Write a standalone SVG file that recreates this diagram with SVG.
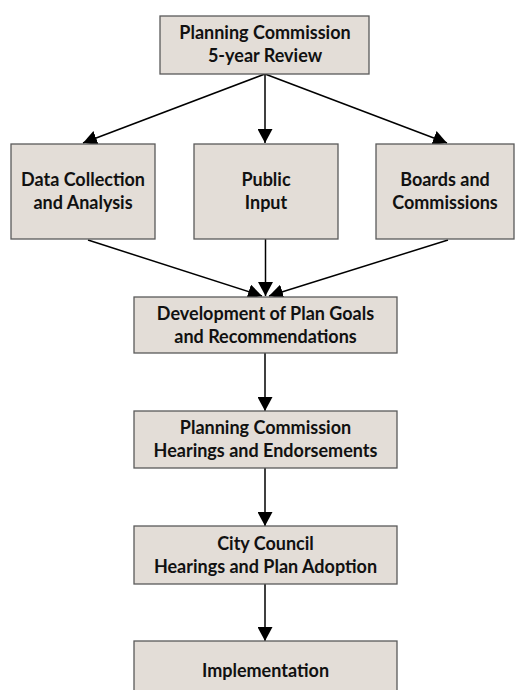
<svg xmlns="http://www.w3.org/2000/svg" width="515" height="690" viewBox="0 0 515 690">
  <style>
    .box { fill: #e3ddd7; stroke: #5a5a5a; stroke-width: 1.3; }
    .lbl { font-family: Lato, "Open Sans", sans-serif; font-weight: bold; font-size: 18px; fill: #111; text-anchor: middle; }
    .conn { stroke: #000; stroke-width: 1.5; fill: none; marker-end: url(#arrow); }
  </style>
  <defs>
    <marker id="arrow" markerUnits="userSpaceOnUse" markerWidth="14" markerHeight="15" viewBox="0 0 14 15" refX="14" refY="7.5" orient="auto">
      <path d="M0,0 L14,7.5 L0,15 z" fill="#000"/>
    </marker>
  </defs>
  <rect width="515" height="690" fill="#fff"/>
  <g id="connectors">
    <line class="conn" x1="265" y1="74" x2="83" y2="143"/>
    <line class="conn" x1="265" y1="74" x2="265" y2="143"/>
    <line class="conn" x1="265" y1="74" x2="447" y2="143"/>
    <line class="conn" x1="88" y1="240" x2="262" y2="296"/>
    <line class="conn" x1="265.5" y1="239" x2="265.5" y2="296"/>
    <line class="conn" x1="448" y1="240" x2="269" y2="296"/>
    <line class="conn" x1="265" y1="353" x2="265" y2="411"/>
    <line class="conn" x1="265" y1="468" x2="265" y2="526"/>
    <line class="conn" x1="265" y1="584" x2="265" y2="641"/>
  </g>
  <g id="n-review">
    <rect class="box" x="160" y="16" width="209" height="58"/>
    <text class="lbl" x="265" y="39">Planning Commission</text>
    <text class="lbl" x="265" y="62">5-year Review</text>
  </g>
  <g id="n-data">
    <rect class="box" x="11" y="144" width="144" height="95"/>
    <text class="lbl" x="83" y="186">Data Collection</text>
    <text class="lbl" x="83" y="209">and Analysis</text>
  </g>
  <g id="n-public">
    <rect class="box" x="194" y="144" width="144" height="95"/>
    <text class="lbl" x="266" y="186">Public</text>
    <text class="lbl" x="266" y="209">Input</text>
  </g>
  <g id="n-boards">
    <rect class="box" x="376" y="144" width="138" height="95"/>
    <text class="lbl" x="445" y="186">Boards and</text>
    <text class="lbl" x="445" y="209">Commissions</text>
  </g>
  <g id="n-development">
    <rect class="box" x="134" y="297" width="263" height="56"/>
    <text class="lbl" x="265.5" y="320">Development of Plan Goals</text>
    <text class="lbl" x="265.5" y="343">and Recommendations</text>
  </g>
  <g id="n-pc-hearings">
    <rect class="box" x="134" y="411" width="263" height="57"/>
    <text class="lbl" x="265.5" y="434">Planning Commission</text>
    <text class="lbl" x="265.5" y="457">Hearings and Endorsements</text>
  </g>
  <g id="n-council">
    <rect class="box" x="134" y="526" width="263" height="58"/>
    <text class="lbl" x="265.5" y="550">City Council</text>
    <text class="lbl" x="265.5" y="573">Hearings and Plan Adoption</text>
  </g>
  <g id="n-implementation">
    <rect class="box" x="134" y="641" width="263" height="60"/>
    <text class="lbl" x="265.5" y="677">Implementation</text>
  </g>
</svg>
